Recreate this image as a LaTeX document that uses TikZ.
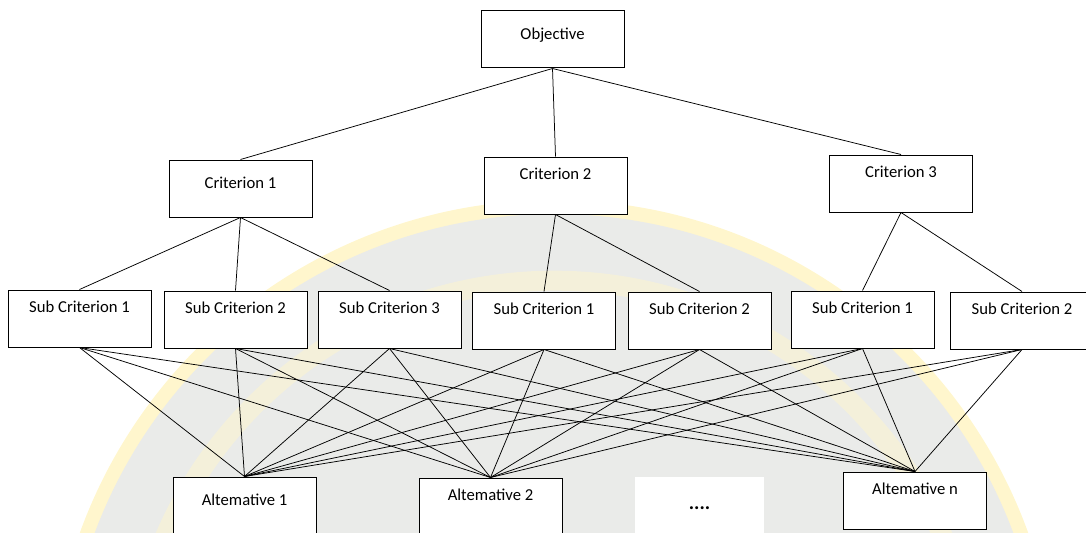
\documentclass[tikz,border=0pt]{standalone}
\usepackage{fontspec}
\setmainfont{Carlito}
\definecolor{sealgray}{RGB}{234,235,233}
\definecolor{sealring}{RGB}{255,246,205}
\begin{document}
\begin{tikzpicture}[x=0.6pt,y=-0.6pt,
    box/.style={draw,fill=white,line width=0.6pt,minimum width=85.8pt,
        inner xsep=0pt,inner ysep=0pt,text height=13.5pt,text depth=20.7pt,
        font=\fontsize{10}{12}\selectfont},
    midbox/.style={box,text height=17.1pt,text depth=17.1pt},
    link/.style={line width=0.45pt}]
\useasboundingbox (0,0) rectangle (1086,532);
\clip (0,0) rectangle (1086,532);

% seal in the background
\fill[sealring] (554,704) circle (302.4pt);
\fill[sealgray] (554,704) circle (294pt);
\draw[sealring,line width=12pt,opacity=0.5] (554,704) circle (254pt);

\node[midbox] (obj) at (552.5,39.5) {Objective};

\node[midbox] (c1) at (240.5,188.5) {Criterion 1};
\node[box] (c2) at (555.5,185.5) {Criterion 2};
\node[box] (c3) at (901,183.5) {Criterion 3};

\node[box] (s11) at (79.5,318.5) {Sub Criterion 1};
\node[box] (s12) at (235.5,319.5) {Sub Criterion 2};
\node[box] (s13) at (389.5,319.5) {Sub Criterion 3};
\node[box] (s21) at (544,320.5) {Sub Criterion 1};
\node[box] (s22) at (699.5,320.5) {Sub Criterion 2};
\node[box] (s31) at (862.5,319.5) {Sub Criterion 1};
\node[box] (s32) at (1022,320.5) {Sub Criterion 2};

\node[midbox] (a1) at (244.5,505.5) {Altemative 1};
\node[box] (a2) at (490.5,506.5) {Altemative 2};
\node[box,draw=none,minimum width=77.4pt,text height=19.2pt,text depth=15pt,
    font=\fontsize{12}{14}\selectfont\bfseries] (dots) at (699.5,505.5) {....};
\node[box] (an) at (915,500.5) {Altemative n};

\foreach \c in {c1,c2,c3}{
    \draw[link] (obj.south) -- (\c.north);
}
\foreach \s in {s11,s12,s13}{
    \draw[link] (c1.south) -- (\s.north);
}
\foreach \s in {s21,s22}{
    \draw[link] (c2.south) -- (\s.north);
}
\foreach \s in {s31,s32}{
    \draw[link] (c3.south) -- (\s.north);
}

\foreach \s in {s11,s12,s13,s21,s22,s31,s32}{
    \foreach \a in {a1,a2,an}{
        \draw[link] (\s.south) -- (\a.north);
    }
}
\end{tikzpicture}
\end{document}
